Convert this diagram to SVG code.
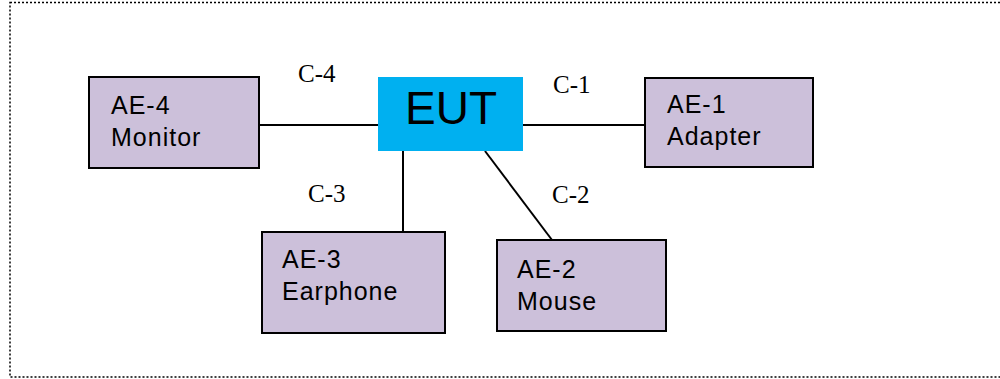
<svg xmlns="http://www.w3.org/2000/svg" width="1000" height="379" viewBox="0 0 1000 379">
<style>
.ae{fill:#CCC0DA;stroke:#000;stroke-width:2}
.t{font-family:"Liberation Sans",Arial,sans-serif;font-size:25px;letter-spacing:1px;fill:#000}
.c{font-family:"Liberation Serif","Times New Roman",serif;font-size:25px;fill:#000}
.ln{stroke:#000;stroke-width:2;fill:none}
</style>
<rect x="10" y="2.5" width="1000" height="374.5" fill="none" stroke="#000" stroke-width="1.5" stroke-dasharray="2,2"/>
<g id="connectors">
<line class="ln" x1="259" y1="125" x2="378" y2="125"/>
<line class="ln" x1="523" y1="125" x2="645" y2="125"/>
<line class="ln" x1="403" y1="151" x2="403" y2="232"/>
<line class="ln" x1="485" y1="151" x2="552" y2="240"/>
<text class="c" x="298" y="82">C-4</text>
<text class="c" x="553" y="93">C-1</text>
<text class="c" x="308" y="202">C-3</text>
<text class="c" x="552" y="203">C-2</text>
</g>
<g id="EUT">
<rect x="378" y="77" width="145" height="74" fill="#00B0F0"/>
<text x="451" y="124" text-anchor="middle" font-family="Liberation Sans,Arial,sans-serif" font-size="46">EUT</text>
</g>
<g id="AE-4">
<rect class="ae" x="89" y="77" width="170" height="91"/>
<text class="t" x="111" y="114">AE-4</text>
<text class="t" x="111" y="146">Monitor</text>
</g>
<g id="AE-1">
<rect class="ae" x="645" y="78" width="168" height="89"/>
<text class="t" x="667" y="113">AE-1</text>
<text class="t" x="667" y="145">Adapter</text>
</g>
<g id="AE-3">
<rect class="ae" x="262" y="232" width="183" height="101"/>
<text class="t" x="282" y="268">AE-3</text>
<text class="t" x="282" y="300">Earphone</text>
</g>
<g id="AE-2">
<rect class="ae" x="497" y="240" width="169" height="91"/>
<text class="t" x="517" y="278">AE-2</text>
<text class="t" x="517" y="310">Mouse</text>
</g>
</svg>
